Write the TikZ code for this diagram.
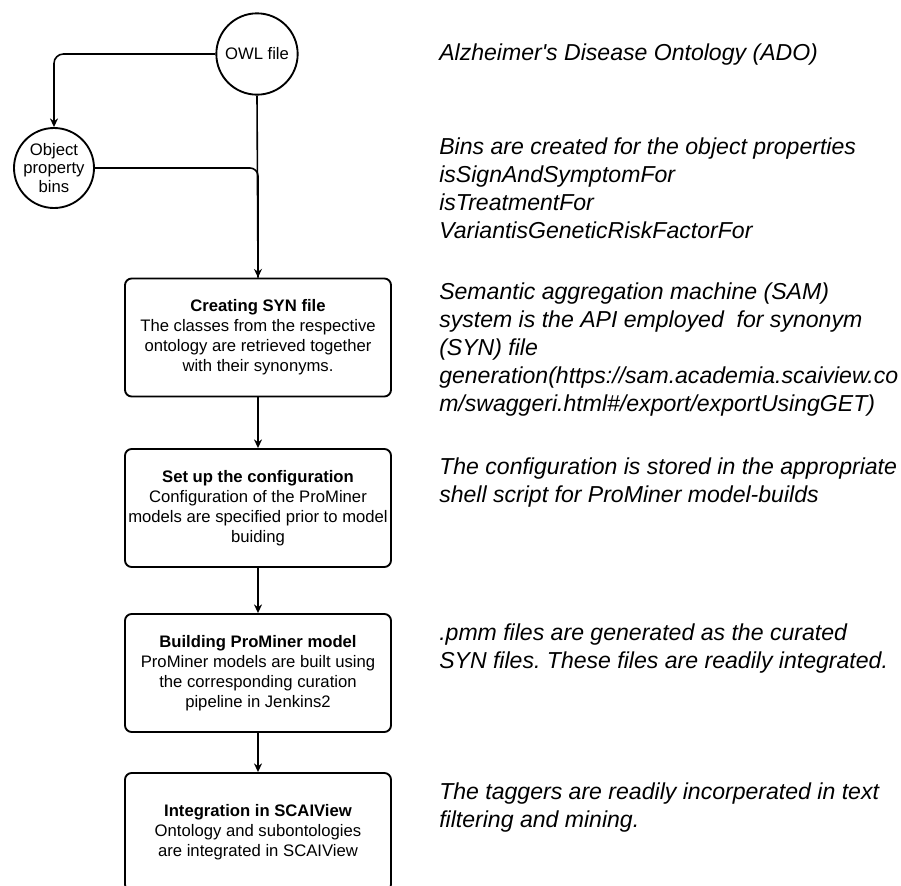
\documentclass[tikz,border=0pt]{standalone}
\usepackage{fontspec}
\setmainfont{Liberation Sans}
\usetikzlibrary{arrows.meta,positioning}
\frenchspacing

\begin{document}
\begin{tikzpicture}[x=0.75pt,y=0.75pt,yscale=-1,xscale=1,
    circ/.style={draw, circle, line width=1.4pt, minimum size=61pt, inner sep=-3pt, align=center, font=\fontsize{12.5}{14}\selectfont},
    stepbox/.style={draw, rounded corners=5pt, line width=1.4pt, minimum width=199.5pt, minimum height=88.5pt, inner sep=1pt, align=center, font=\fontsize{12.5}{15}\selectfont},
    note/.style={anchor=west, inner sep=0pt, align=left, font=\fontsize{17.3}{21}\selectfont\itshape},
    line/.style={line width=1.2pt},
    arr/.style={line, -{Stealth[length=6.5pt,width=6pt]}}]
\useasboundingbox (0,0) rectangle (901,886);
\clip (0,0) rectangle (901,886);
% Circles
\node[circ] (owl) at (257,54) {OWL file};
\node[circ, minimum size=60pt] (bins) at (54,168) {Object\\property\\bins};
% Steps
\node[stepbox] (syn) at (258,337.5) {\textbf{Creating SYN file}\\The classes from the respective\\ontology are retrieved together\\with their synonyms.};
\node[stepbox] (config) at (258,508) {\textbf{Set up the configuration}\\Configuration of the ProMiner\\models are specified prior to model\\buiding};
\node[stepbox] (build) at (258,673) {\textbf{Building ProMiner model}\\ProMiner models are built using\\the corresponding curation\\pipeline in Jenkins2};
\node[stepbox] (integ) at (258,832) {\textbf{Integration in SCAIView}\\Ontology and subontologies\\are integrated in SCAIView};
% Connectors
\draw[arr, rounded corners=7pt] (owl.west) -| (bins.north);
\draw[line, rounded corners=6pt] (bins.east) -| (syn.north);
\draw[arr] (owl.south) -- (syn.north);
\draw[arr] (syn.south) -- (config.north);
\draw[arr] (config.south) -- (build.north);
\draw[arr] (build.south) -- (integ.north);
% Text Node
\node[note] (adotext) at (439,55) {Alzheimer\textquotesingle s Disease Ontology (ADO)};
\node[note] (binstext) at (439,188.5) {Bins are created for the object properties\\isSignAndSymptomFor\\isTreatmentFor\\VariantisGeneticRiskFactorFor};
\node[note] (samtext) at (439,350) {Semantic aggregation machine (SAM)\\system is the API employed\ \ for synonym\\(SYN) file\\generation(https://sam.academia.scaiview.co\\m/swaggeri.html\#/export/exportUsingGET)};
\node[note] (conftext) at (439,482.5) {The configuration is stored in the appropriate\\shell script for ProMiner model-builds};
\node[note] (pmmtext) at (439,649) {.pmm files are generated as the curated\\SYN files. These files are readily integrated.};
\node[note] (taggertext) at (439,807.5) {The taggers are readily incorperated in text\\filtering and mining.};
\end{tikzpicture}
\end{document}
